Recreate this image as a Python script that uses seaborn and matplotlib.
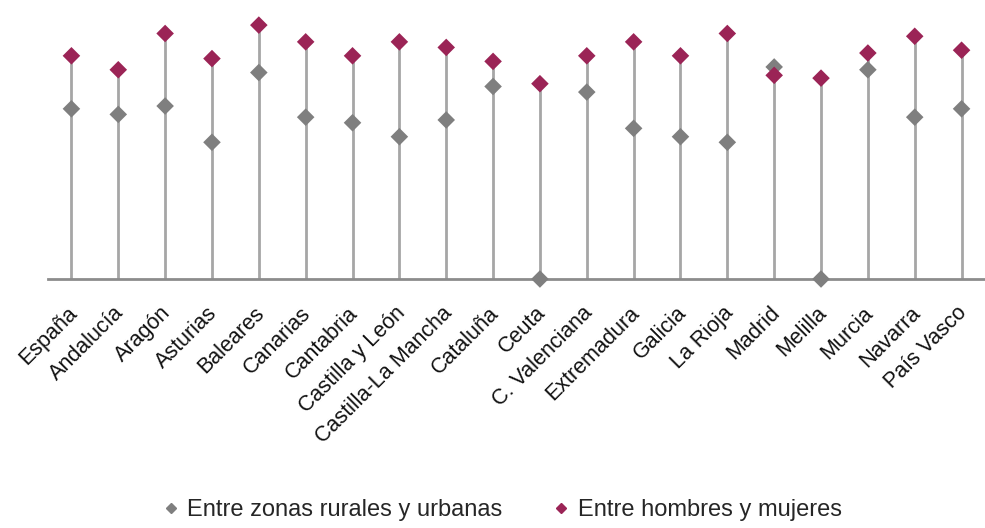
import numpy as np
import pandas as pd
import matplotlib
matplotlib.use("Agg")
import matplotlib.pyplot as plt
import matplotlib.transforms as mtransforms
from matplotlib.lines import Line2D
import seaborn as sns

# regions along the x axis
regiones = ['España', 'Andalucía', 'Aragón', 'Asturias', 'Baleares', 'Canarias',
            'Cantabria', 'Castilla y León', 'Castilla-La Mancha', 'Cataluña', 'Ceuta',
            'C. Valenciana', 'Extremadura', 'Galicia', 'La Rioja', 'Madrid', 'Melilla',
            'Murcia', 'Navarra', 'País Vasco']

# values (no axis scale shown, relative units)
rural_urbano = [0.61, 0.59, 0.62, 0.49, 0.74, 0.58, 0.56, 0.51, 0.57, 0.69, 0.00,
                0.67, 0.54, 0.51, 0.49, 0.76, 0.00, 0.75, 0.58, 0.61]
hombres_mujeres = [0.80, 0.75, 0.88, 0.79, 0.91, 0.85, 0.80, 0.85, 0.83, 0.78, 0.70,
                   0.80, 0.85, 0.80, 0.88, 0.73, 0.72, 0.81, 0.87, 0.82]

serie_labels = ['Entre zonas rurales y urbanas', 'Entre hombres y mujeres']
colores = ['#7f7f7f', '#9b2456']

df = pd.DataFrame({'region': regiones,
                   serie_labels[0]: rural_urbano,
                   serie_labels[1]: hombres_mujeres})
df['pos'] = np.arange(len(df))
long_df = df.melt(id_vars=['region', 'pos'], var_name='serie', value_name='valor')

sns.set_style('white')
plt.rcParams['font.family'] = ['Liberation Sans', 'DejaVu Sans']

fig = plt.figure(figsize=(9.85, 5.28), dpi=100)
ax = fig.add_axes([48 / 985, 1 - 279 / 528, 1 - 48 / 985, 279 / 528])

# drop lines from baseline to the highest marker
tope = df[serie_labels].max(axis=1)
ax.vlines(df['pos'], 0, tope, color='#a6a6a6', linewidth=2, zorder=1)

sns.scatterplot(data=long_df, x='pos', y='valor', hue='serie', hue_order=serie_labels,
                palette=colores, marker='D', s=80, linewidth=0, ax=ax, zorder=3,
                legend=False, clip_on=False)

ax.set_xlim(-0.5, len(regiones) - 0.5)
ax.set_ylim(0, 1.0)
ax.set_yticks([])
ax.set_xticks(df['pos'])
ax.set_xticklabels(regiones, rotation=45, ha='right', va='top', rotation_mode='anchor',
                   fontsize=15.5, color='#111111')
ax.tick_params(axis='x', length=0, pad=17)
ax.set_xlabel('')
ax.set_ylabel('')

# nudge labels a little to the left, like the original
shift = mtransforms.ScaledTranslation(-5 / 100, 0, fig.dpi_scale_trans)
for lbl in ax.get_xticklabels():
    lbl.set_transform(lbl.get_transform() + shift)

for lado in ['top', 'right', 'left']:
    ax.spines[lado].set_visible(False)
ax.spines['bottom'].set_color('#8c8c8c')
ax.spines['bottom'].set_linewidth(2)
ax.spines['bottom'].set_zorder(2)

handles = [Line2D([], [], marker='D', linestyle='', color=c, markersize=5) for c in colores]
fig.legend(handles, serie_labels, loc='center', bbox_to_anchor=(0.508, 0.034), ncol=2,
           frameon=False, fontsize=17, handletextpad=0.2, columnspacing=2.0,
           handlelength=1.0)

fig.savefig('out.png', dpi=100, facecolor='white')
